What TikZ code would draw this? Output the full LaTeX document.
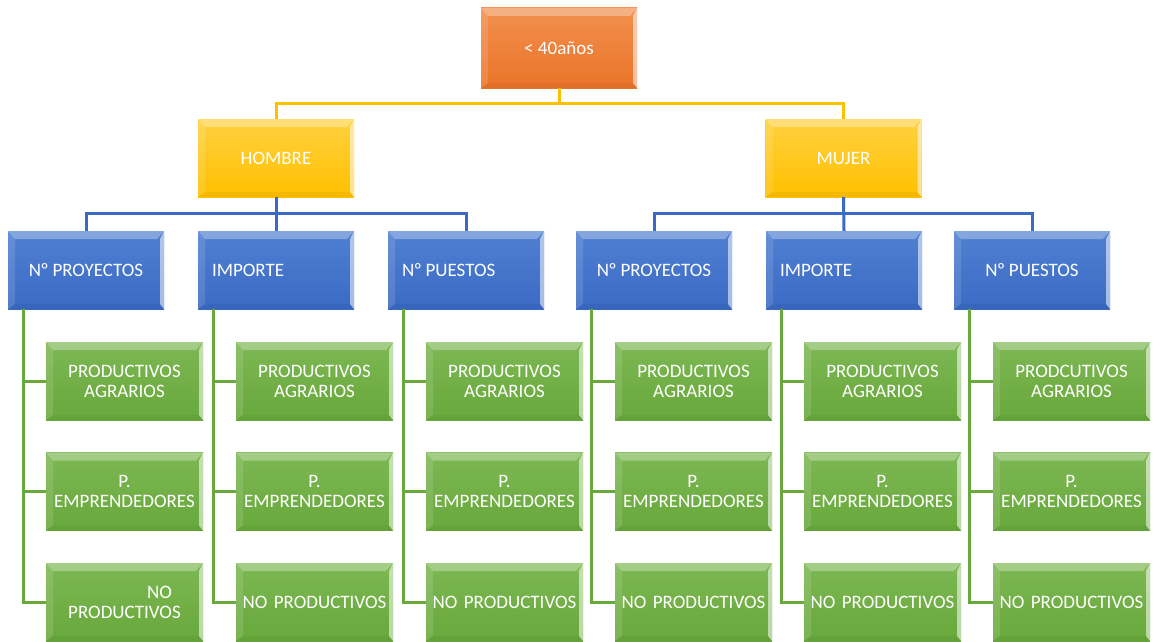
\documentclass[tikz,border=0pt]{standalone}
\usepackage{fontspec}
\setmainfont{Carlito}
\definecolor{orA}{HTML}{EA7428}
\definecolor{orB}{HTML}{F2904F}
\definecolor{yeA}{HTML}{FFC000}
\definecolor{yeB}{HTML}{FFD13F}
\definecolor{blA}{HTML}{3B6AC4}
\definecolor{blB}{HTML}{5080D2}
\definecolor{grA}{HTML}{68A83C}
\definecolor{grB}{HTML}{7DB853}
\newcommand{\numo}{N\kern-0.5pt º\kern-2.5pt\ }
\tikzset{
  bev/.style={path picture={
    \coordinate (ppnw) at (path picture bounding box.north west);
    \coordinate (ppne) at (path picture bounding box.north east);
    \coordinate (ppsw) at (path picture bounding box.south west);
    \coordinate (ppse) at (path picture bounding box.south east);
    \fill[white,opacity=.30] (ppnw) -- (ppne) -- ([xshift=-7pt,yshift=-8pt]ppne) -- ([xshift=7pt,yshift=-8pt]ppnw) -- cycle;
    \fill[white,opacity=.55] (ppne) -- (ppse) -- ([xshift=-4pt,yshift=5pt]ppse) -- ([xshift=-4pt,yshift=-8pt]ppne) -- cycle;
    \fill[black,opacity=.04] (ppsw) -- (ppse) -- ([xshift=-4pt,yshift=5pt]ppse) -- ([xshift=7pt,yshift=5pt]ppsw) -- cycle;
    \fill[white,opacity=.12] (ppnw) -- (ppsw) -- ([xshift=7pt,yshift=5pt]ppsw) -- ([xshift=7pt,yshift=-8pt]ppnw) -- cycle;
  }},
  boxbase/.style={bev, inner sep=0pt, minimum height=78pt, minimum width=156pt,
    text=white, font=\fontsize{19}{20}\selectfont},
  topbox/.style={boxbase, top color=orB, bottom color=orA, minimum height=80pt},
  sexbox/.style={boxbase, top color=yeB, bottom color=yeA},
  catbox/.style={boxbase, top color=blB, bottom color=blA, text width=156pt, align=center},
  catleft/.style={boxbase, top color=blB, bottom color=blA, inner xsep=14pt, text width=128pt, align=left},
  leafbox/.style={boxbase, top color=grB, bottom color=grA, minimum width=157pt, text width=157pt, align=center},
  yline/.style={draw=yeA, line width=3pt},
  bline/.style={draw=blA, line width=3pt},
  gline/.style={draw=grA, line width=3pt},
}
\begin{document}
\begin{tikzpicture}[x=1pt,y=-1pt]
\useasboundingbox (0,0) rectangle (1156,642);
\node[topbox] (top) at (559,48) {< 40años};
\node[sexbox] (hom) at (276,158) {HOMBRE};
\node[sexbox] (muj) at (843.5,158) {MUJER};
% blue
\node[catbox]  (b1) at (86,270)   {\numo PROYECTOS};
\node[catleft] (b2) at (276,270)  {IMPORTE};
\node[catleft] (b3) at (466,270)  {\numo PUESTOS};
\node[catbox]  (b4) at (654,270)  {\numo PROYECTOS};
\node[catleft] (b5) at (844,270)  {IMPORTE};
\node[catbox]  (b6) at (1032,270) {\numo PUESTOS};
% green
\node[leafbox] (g11) at (124.5,381)  {PRODUCTIVOS\\AGRARIOS};
\node[leafbox] (g12) at (124.5,491.5){P.\\EMPRENDEDORES};
\node[leafbox] (g13) at (124.5,602)  {\hspace*{70pt}NO\\PRODUCTIVOS};
\node[leafbox] (g21) at (314.5,381)  {PRODUCTIVOS\\AGRARIOS};
\node[leafbox] (g22) at (314.5,491.5){P.\\EMPRENDEDORES};
\node[leafbox] (g23) at (314.5,602)  {NO PRODUCTIVOS};
\node[leafbox] (g31) at (504.5,381)  {PRODUCTIVOS\\AGRARIOS};
\node[leafbox] (g32) at (504.5,491.5){P.\\EMPRENDEDORES};
\node[leafbox] (g33) at (504.5,602)  {NO PRODUCTIVOS};
\node[leafbox] (g41) at (693.5,381)  {PRODUCTIVOS\\AGRARIOS};
\node[leafbox] (g42) at (693.5,491.5){P.\\EMPRENDEDORES};
\node[leafbox] (g43) at (693.5,602)  {NO PRODUCTIVOS};
\node[leafbox] (g51) at (882.5,381)  {PRODUCTIVOS\\AGRARIOS};
\node[leafbox] (g52) at (882.5,491.5){P.\\EMPRENDEDORES};
\node[leafbox] (g53) at (882.5,602)  {NO PRODUCTIVOS};
\node[leafbox] (g61) at (1071.5,381) {PRODCUTIVOS\\AGRARIOS};
\node[leafbox] (g62) at (1071.5,491.5){P.\\EMPRENDEDORES};
\node[leafbox] (g63) at (1071.5,602) {NO PRODUCTIVOS};
% connectors
\draw[yline] (top.south) -- ++(0,15) -| (hom.north);
\draw[yline] (top.south) -- ++(0,15) -| (muj.north);
\draw[bline] (hom.south) -- ++(0,16) -| (b1.north);
\draw[bline] (hom.south) -- (b2.north);
\draw[bline] (hom.south) -- ++(0,16) -| (b3.north);
\draw[bline] (muj.south) -- ++(0,16) -| (b4.north);
\draw[bline] (muj.south) -- (b5.north);
\draw[bline] (muj.south) -- ++(0,16) -| (b6.north);
\foreach \c in {1,...,6}{
  \draw[gline] ([xshift=16pt]b\c.south west) |- (g\c1.west);
  \draw[gline] ([xshift=16pt]b\c.south west) |- (g\c2.west);
  \draw[gline] ([xshift=16pt]b\c.south west) |- (g\c3.west);
}
\end{tikzpicture}
\end{document}
